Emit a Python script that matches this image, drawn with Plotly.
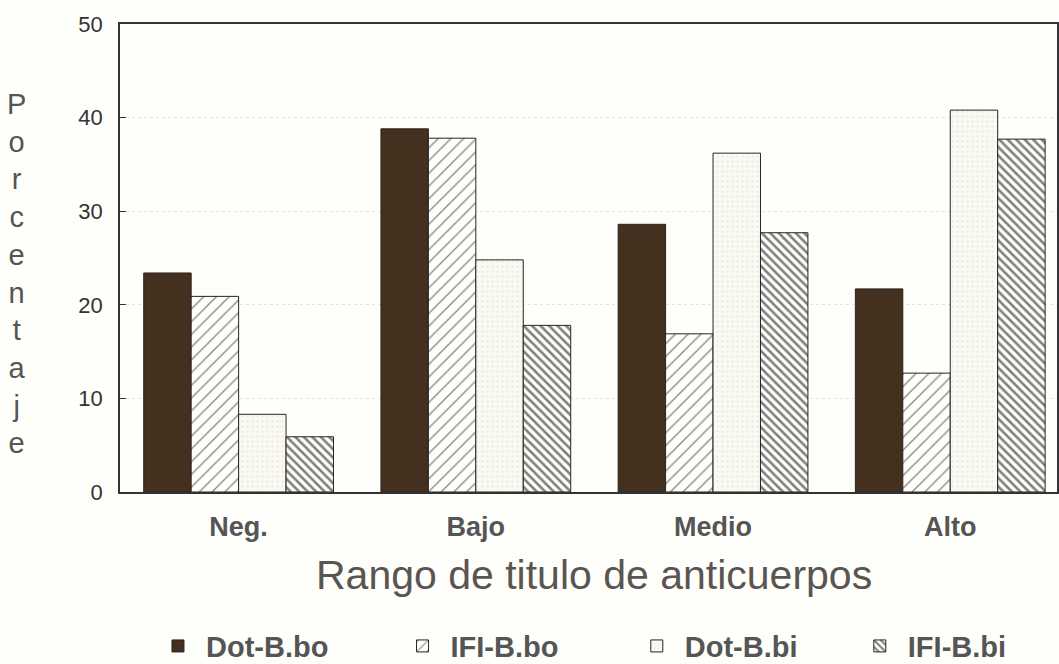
import plotly.graph_objects as go

categories = ["Neg.", "Bajo", "Medio", "Alto"]
series_names = ["Dot-B.bo", "IFI-B.bo", "Dot-B.bi", "IFI-B.bi"]
dot_b_bo = [23.4, 38.8, 28.6, 21.7]
ifi_b_bo = [20.9, 37.8, 16.9, 12.7]
dot_b_bi = [8.3, 24.8, 36.2, 40.8]
ifi_b_bi = [5.9, 17.8, 27.7, 37.7]
y_ticks = [0, 10, 20, 30, 40, 50]

values = [dot_b_bo, ifi_b_bo, dot_b_bi, ifi_b_bi]
styles = [
    dict(color="#43301f", pattern=dict(shape="", fillmode="overlay")),
    dict(color="#fefefb", pattern=dict(shape="/", size=9, solidity=0.15, fgcolor="#111", fillmode="overlay")),
    dict(color="#fbfaf2", pattern=dict(shape=".", size=5, solidity=0.15, fgcolor="#d6d4ca", fillmode="overlay")),
    dict(color="#fefefb", pattern=dict(shape="\\", size=6, solidity=0.42, fgcolor="#000", fillmode="overlay")),
]
legend_ids = ["legend", "legend2", "legend3", "legend4"]
legend_x = [0.032, 0.293, 0.543, 0.781]

fig = go.Figure()
for name, vals, st, lg in zip(series_names, values, styles, legend_ids):
    fig.add_trace(go.Bar(
        x=categories, y=vals, name=name, legend=lg,
        marker=dict(color=st["color"], pattern=st["pattern"],
                    line=dict(color="#2a2420", width=1)),
    ))

legend_style = dict(
    orientation="h", xanchor="left", yref="container", y=0.027, yanchor="middle",
    itemwidth=46,
    font=dict(family="Liberation Sans, Arial, sans-serif", size=29, color="#555", weight="bold"),
    bgcolor="rgba(0,0,0,0)",
)

fig.update_layout(
    width=1059, height=664,
    margin=dict(l=120, r=0, t=24, b=172),
    paper_bgcolor="#fefefb", plot_bgcolor="#fefefb",
    barmode="group", bargap=0.2, bargroupgap=0,
    showlegend=True,
    font=dict(family="Liberation Sans, Arial, sans-serif", color="#444"),
)
for lg, lx in zip(legend_ids, legend_x):
    fig.update_layout({lg: dict(x=lx, **legend_style)})

fig.update_xaxes(
    range=[-0.5, 3.45], showline=True, linecolor="#333", linewidth=1.5, mirror=True,
    ticks="", showgrid=False,
    tickfont=dict(family="Liberation Sans, Arial, sans-serif", size=27, color="#555", weight="bold"),
    ticklabelstandoff=10,
)
fig.update_yaxes(
    range=[0, 50], tickvals=y_ticks, showline=True, linecolor="#333", linewidth=1.5, mirror=True,
    ticks="inside", ticklen=6, tickcolor="#333",
    showgrid=True, gridcolor="#e6e4dc", griddash="dot", gridwidth=1,
    tickfont=dict(family="Liberation Sans, Arial, sans-serif", size=22, color="#333"),
    ticklabelstandoff=11, zeroline=False,
)

fig.add_annotation(
    text="Rango de titulo de anticuerpos", xref="paper", yref="paper",
    x=0.506, y=-0.177, xanchor="center", yanchor="middle", showarrow=False,
    font=dict(family="Liberation Sans, Arial, sans-serif", size=41, color="#5a5550"),
)
fig.add_annotation(
    text="<br>".join(list("Porcentaje")), xref="paper", yref="paper",
    x=-0.110, y=0.466, xanchor="center", yanchor="middle", showarrow=False,
    align="center",
    font=dict(family="Liberation Sans, Arial, sans-serif", size=29, color="#555"),
)

fig.write_html(
    "out.html",
    config={"displayModeBar": False},
    post_script="document.body.style.margin='0';document.body.style.overflow='hidden';",
)
